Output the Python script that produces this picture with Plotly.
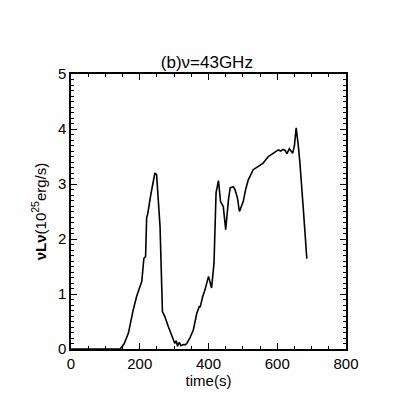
import plotly.graph_objects as go

# 43 GHz light curve
time_s = [0, 60, 120, 143, 155, 167, 181, 191, 201, 206, 212, 217, 220, 223, 232, 239, 244, 249,
          259, 266, 273, 283, 293, 298, 302, 306, 310, 315, 320, 327, 333, 337, 346, 356, 366, 373,
          376, 383, 390, 400, 405, 409, 416, 422, 429, 435, 443, 450, 458, 463, 472, 477, 484, 490,
          501, 508, 516, 530, 545, 559, 574, 588, 603, 610, 617, 623, 628, 635, 641, 645, 650, 655,
          661, 666, 676, 686]
nu_l_nu = [0, 0, 0, 0, 0.1, 0.29, 0.71, 0.96, 1.14, 1.23, 1.65, 1.68, 2.39, 2.45, 2.8, 3.02, 3.2, 3.17,
           2.23, 0.68, 0.59, 0.41, 0.23, 0.17, 0.1, 0.15, 0.05, 0.12, 0.06, 0.08, 0.08, 0.1, 0.2, 0.35, 0.65, 0.77,
           0.77, 0.95, 1.08, 1.32, 1.2, 1.11, 1.56, 2.84, 3.06, 2.68, 2.59, 2.17, 2.71, 2.93, 2.95, 2.9, 2.75, 2.5,
           2.68, 2.9, 3.08, 3.26, 3.32, 3.38, 3.5, 3.56, 3.62, 3.6, 3.63, 3.61, 3.55, 3.64, 3.6, 3.56, 3.7, 4.02,
           3.71, 3.38, 2.53, 1.64]

fig = go.Figure()
fig.add_trace(go.Scatter(x=time_s, y=nu_l_nu, mode="lines",
                         line=dict(color="black", width=1.6), showlegend=False))

font = dict(family="Liberation Sans", size=15, color="black")
axis_common = dict(showline=True, linecolor="black", linewidth=1.5, mirror="allticks",
                   ticks="inside", ticklen=6, tickwidth=1, tickcolor="black",
                   showgrid=False, zeroline=False, automargin=False, tickfont=font)

fig.update_xaxes(range=[0, 800], dtick=200, tick0=0,
                 minor=dict(dtick=50, ticks="inside", ticklen=3, tickcolor="black"),
                 title=dict(text="time(s)", standoff=0, font=font),
                 **axis_common)
fig.update_yaxes(range=[0, 5], dtick=1, tick0=0,
                 minor=dict(dtick=0.1, ticks="inside", ticklen=3, tickcolor="black"),
                 title=dict(text="<b>νLν</b>(10<sup>25</sup>erg/s)", standoff=8, font=font),
                 **axis_common)

# the page body adds an 8px offset, margins below compensate for it
fig.update_layout(
    width=393, height=393,
    margin=dict(l=63, r=55, t=66, b=52, autoexpand=False),
    plot_bgcolor="white", paper_bgcolor="white",
    title=dict(text="(b)ν=43GHz", x=0.506, xanchor="center", y=0.863, yanchor="middle",
               font=dict(family="Liberation Sans", size=17, color="black")),
)

fig.write_html("out.html")
